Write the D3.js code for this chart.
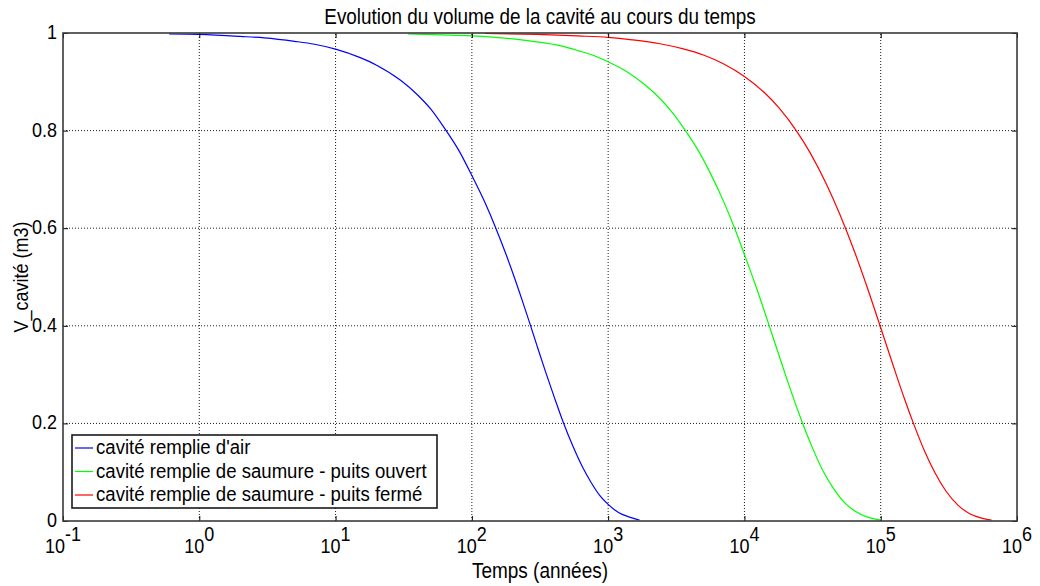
<!DOCTYPE html>
<html>
<head>
<meta charset="utf-8">
<script src="https://cdn.jsdelivr.net/npm/d3@7"></script>
<style>
  html, body { margin: 0; padding: 0; background: #fff; }
  svg { display: block; font-family: "Liberation Sans", Arial, sans-serif; }
  .grid line { stroke: #1a1a1a; stroke-width: 1; stroke-dasharray: 1 2; }
</style>
</head>
<body>
<svg id="chart" width="1040" height="586"></svg>
<script>
// values (time in years, volume 0..1)
const airTime = [0.6, 1, 2, 3, 5, 7, 10, 15, 20, 30, 40, 50, 63, 80, 100, 125, 150, 180, 207, 240, 267, 300, 347, 400, 466, 550, 650, 750, 870, 1000, 1200, 1400, 1700];
const airVolume = [0.998, 0.997, 0.993, 0.990, 0.983, 0.977, 0.967, 0.950, 0.934, 0.903, 0.873, 0.844, 0.805, 0.760, 0.708, 0.652, 0.600, 0.543, 0.496, 0.443, 0.404, 0.360, 0.306, 0.256, 0.204, 0.154, 0.110, 0.079, 0.052, 0.034, 0.017, 0.009, 0.002];

const openTime = [34, 60, 100, 200, 300, 443, 600, 800, 1000, 1400, 1800, 2300, 3000, 3630, 4500, 5500, 7000, 8500, 10000, 12000, 15000, 18000, 21000, 26000, 31000, 38000, 45000, 55000, 65000, 80000, 100000];
const openVolume = [0.998, 0.996, 0.994, 0.988, 0.982, 0.974, 0.964, 0.953, 0.941, 0.919, 0.897, 0.871, 0.835, 0.803, 0.763, 0.718, 0.656, 0.599, 0.546, 0.485, 0.405, 0.338, 0.282, 0.209, 0.155, 0.101, 0.067, 0.036, 0.020, 0.008, 0.002];

const closedTime = [125, 300, 600, 1000, 1500, 2400, 3500, 5000, 7000, 10000, 14000, 18000, 24000, 30000, 40000, 50000, 65000, 80000, 100000, 125000, 150000, 175000, 210000, 250000, 300000, 370000, 450000, 550000, 650000];
const closedVolume = [0.999, 0.997, 0.994, 0.991, 0.986, 0.978, 0.968, 0.955, 0.937, 0.911, 0.878, 0.846, 0.800, 0.757, 0.690, 0.629, 0.548, 0.477, 0.396, 0.314, 0.249, 0.198, 0.143, 0.099, 0.062, 0.032, 0.015, 0.006, 0.002];

const seriesNames = [
  "cavité remplie d'air",
  "cavité remplie de saumure - puits ouvert",
  "cavité remplie de saumure - puits fermé"
];
const seriesColors = ["#0000ff", "#00ff00", "#ff0000"];

const xExponents = [-1, 0, 1, 2, 3, 4, 5, 6];
const yTicks = [0, 0.2, 0.4, 0.6, 0.8, 1];
const yTickLabels = ["0", "0.2", "0.4", "0.6", "0.8", "1"];

const titleText = "Evolution du volume de la cavité au cours du temps";
const xLabelText = "Temps (années)";
const yLabelText = "V_cavité (m3)";

const series = [
  { name: seriesNames[0], color: seriesColors[0], points: airTime.map((t, i) => [t, airVolume[i]]) },
  { name: seriesNames[1], color: seriesColors[1], points: openTime.map((t, i) => [t, openVolume[i]]) },
  { name: seriesNames[2], color: seriesColors[2], points: closedTime.map((t, i) => [t, closedVolume[i]]) }
];

const svg = d3.select("#chart");
const margin = { top: 33, right: 23, bottom: 65, left: 63 };
const width = 1040, height = 586;
const stretch = 1.12; // glyphs in the reference are a bit taller than wide

const x = d3.scaleLog()
  .domain([0.1, 1e6])
  .range([margin.left, width - margin.right]);
const y = d3.scaleLinear()
  .domain([0, 1])
  .range([height - margin.bottom, margin.top]);

function addText(parent, px, py, size, anchor) {
  return parent.append("text")
    .attr("transform", `translate(${px},${py}) scale(1,${stretch})`)
    .attr("font-size", size)
    .attr("text-anchor", anchor)
    .attr("fill", "#000");
}

// grid
const grid = svg.append("g").attr("class", "grid");
grid.selectAll(".gx")
  .data(xExponents.slice(1, -1))
  .join("line")
  .attr("x1", (d) => x(Math.pow(10, d)))
  .attr("x2", (d) => x(Math.pow(10, d)))
  .attr("y1", y(0))
  .attr("y2", y(1));
grid.selectAll(".gy")
  .data(yTicks.slice(1, -1))
  .join("line")
  .attr("x1", x(0.1))
  .attr("x2", x(1e6))
  .attr("y1", (d) => y(d))
  .attr("y2", (d) => y(d));

// curves
const line = d3.line()
  .x((d) => x(d[0]))
  .y((d) => y(d[1]))
  .curve(d3.curveMonotoneX);

svg.append("g")
  .selectAll("path")
  .data(series)
  .join("path")
  .attr("d", (d) => line(d.points))
  .attr("fill", "none")
  .attr("stroke", (d) => d.color)
  .attr("stroke-width", 1.2);

// axes box with inward ticks
const xTickValues = xExponents.map((e) => Math.pow(10, e));
svg.append("g")
  .attr("transform", `translate(0,${y(0)})`)
  .call(d3.axisBottom(x).tickValues(xTickValues).tickSize(-5).tickFormat(""))
  .call((g) => g.select(".domain").remove())
  .call((g) => g.selectAll("line").attr("stroke", "#000"));
svg.append("g")
  .attr("transform", `translate(0,${y(1)})`)
  .call(d3.axisTop(x).tickValues(xTickValues).tickSize(-5).tickFormat(""))
  .call((g) => g.select(".domain").remove())
  .call((g) => g.selectAll("line").attr("stroke", "#000"));
svg.append("g")
  .attr("transform", `translate(${x(0.1)},0)`)
  .call(d3.axisLeft(y).tickValues(yTicks).tickSize(-5).tickFormat(""))
  .call((g) => g.select(".domain").remove())
  .call((g) => g.selectAll("line").attr("stroke", "#000"));
svg.append("g")
  .attr("transform", `translate(${x(1e6)},0)`)
  .call(d3.axisRight(y).tickValues(yTicks).tickSize(-5).tickFormat(""))
  .call((g) => g.select(".domain").remove())
  .call((g) => g.selectAll("line").attr("stroke", "#000"));

svg.append("rect")
  .attr("x", x(0.1))
  .attr("y", y(1))
  .attr("width", x(1e6) - x(0.1))
  .attr("height", y(0) - y(1))
  .attr("fill", "none")
  .attr("stroke", "#3a3a3a")
  .attr("stroke-width", 1.6);

// x tick labels: 10 with raised exponent
xExponents.forEach((e) => {
  const t = addText(svg, x(Math.pow(10, e)), y(0) + 32, 18, "middle");
  t.append("tspan").text("10");
  t.append("tspan").attr("dy", -11).text(e);
});

// y tick labels
yTicks.forEach((v, i) => {
  addText(svg, x(0.1) - 6, y(v) + 6, 18, "end").text(yTickLabels[i]);
});

// title and axis labels
addText(svg, (x(0.1) + x(1e6)) / 2, 24, 18.9, "middle").text(titleText);
addText(svg, (x(0.1) + x(1e6)) / 2, 578, 19, "middle").text(xLabelText);
svg.append("text")
  .attr("transform", `translate(28,${(y(0) + y(1)) / 2}) rotate(-90) scale(1,${stretch})`)
  .attr("font-size", 18)
  .attr("text-anchor", "middle")
  .text(yLabelText);

// legend
const legend = svg.append("g").attr("transform", "translate(72,435)");
legend.append("rect")
  .attr("width", 365)
  .attr("height", 73)
  .attr("fill", "#fff")
  .attr("stroke", "#1a1a1a")
  .attr("stroke-width", 1.6);
const rowY = d3.scalePoint().domain(seriesNames).range([13, 60]);
const rows = legend.selectAll("g.row")
  .data(series)
  .join("g")
  .attr("class", "row")
  .attr("transform", (d) => `translate(0,${rowY(d.name)})`);
rows.append("line")
  .attr("x1", 3)
  .attr("x2", 21)
  .attr("stroke", (d) => d.color)
  .attr("stroke-width", 1.2);
rows.each(function(d) {
  addText(d3.select(this), 24, 6, 18.6, "start").text(d.name);
});
</script>
</body>
</html>
